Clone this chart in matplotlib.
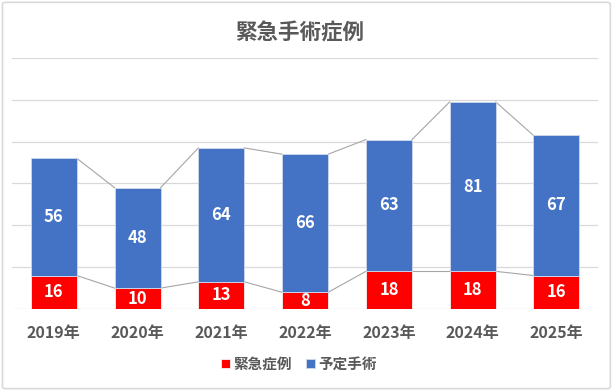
import matplotlib.pyplot as plt
from matplotlib.patches import FancyBboxPatch

plt.rcParams['font.family'] = ['Noto Sans CJK JP', 'DejaVu Sans']

years = ['2019年', '2020年', '2021年', '2022年', '2023年', '2024年', '2025年']
emergency = [16, 10, 13, 8, 18, 18, 16]   # 緊急症例
scheduled = [56, 48, 64, 66, 63, 81, 67]  # 予定手術

RED = '#FF0000'
BLUE = '#4472C4'
GRAY_TXT = '#595959'
BAR_W = 0.55

fig = plt.figure(figsize=(6.14, 3.91), dpi=100)
# outer border like the excel chart frame
fig.patches.append(FancyBboxPatch((0.004, 0.006), 0.99, 0.988, boxstyle='round,pad=0,rounding_size=0.005',
                                  transform=fig.transFigure, fill=False, edgecolor='#D9D9D9', linewidth=1.2))

ax = fig.add_axes([0.0195, 0.2097, 0.955, 0.642])
x = list(range(len(years)))

b1 = ax.bar(x, emergency, width=BAR_W, color=RED, edgecolor='#F2F2F2', linewidth=0.6, zorder=3)
b2 = ax.bar(x, scheduled, width=BAR_W, bottom=emergency, color=BLUE, edgecolor='#D0D8EA', linewidth=0.6, zorder=3)

# series lines between bars
tops_red = emergency
tops_blue = [e + s for e, s in zip(emergency, scheduled)]
for i in range(len(x) - 1):
    for tops in (tops_red, tops_blue):
        ax.plot([x[i] + BAR_W / 2, x[i + 1] - BAR_W / 2], [tops[i], tops[i + 1]],
                color='#A6A6A6', linewidth=0.8, zorder=2)

# data labels
for i in x:
    ax.text(i, emergency[i] / 2, str(emergency[i]), ha='center', va='center',
            color='white', fontsize=12, fontweight='bold', zorder=4)
    ax.text(i, emergency[i] + scheduled[i] / 2, str(scheduled[i]), ha='center', va='center',
            color='white', fontsize=12, fontweight='bold', zorder=4)

ax.set_ylim(0, 120)
ax.set_xlim(-0.5, 6.5)
ax.set_yticks(range(0, 121, 20))
ax.yaxis.grid(True, color='#D9D9D9', linewidth=0.9, zorder=0)
ax.tick_params(axis='y', left=False, labelleft=False)
ax.tick_params(axis='x', bottom=False, pad=8)
ax.set_xticks(x)
ax.set_xticklabels(years, fontsize=11.5, fontweight='bold', color=GRAY_TXT)
for s in ax.spines.values():
    s.set_visible(False)

fig.text(0.488, 0.915, '緊急手術症例', ha='center', va='center', fontsize=15.5,
         fontweight='bold', color=GRAY_TXT)

leg = fig.legend([b1, b2], ['緊急症例', '予定手術'], loc='center', bbox_to_anchor=(0.487, 0.07),
                 ncol=2, frameon=False, handlelength=0.6, handleheight=0.6, handletextpad=0.25,
                 columnspacing=1.0, prop={'size': 10.5, 'weight': 'bold'})
for t in leg.get_texts():
    t.set_color(GRAY_TXT)

fig.savefig('out.png', dpi=100)
